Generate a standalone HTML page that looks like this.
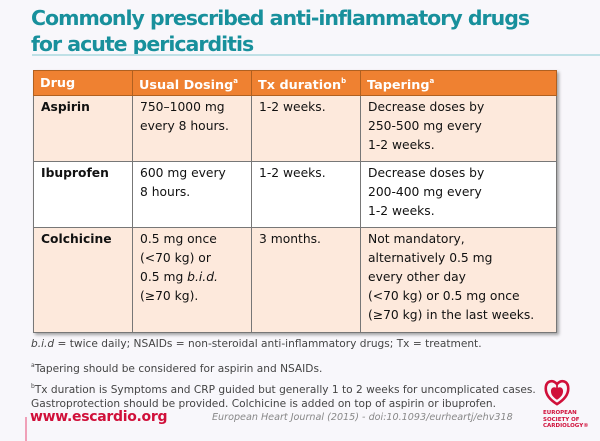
<!DOCTYPE html>
<html><head><meta charset="utf-8"><style>
*{margin:0;padding:0;box-sizing:border-box}
body{width:600px;height:441px;overflow:hidden;background:#f8f7fb;font-family:"DejaVu Sans","Liberation Sans",sans-serif;position:relative}
.a{position:absolute;white-space:nowrap}
.t{left:31px;top:5px;color:#18909c;font-weight:bold;font-size:20.5px;line-height:26px;letter-spacing:-1px}
.rule{left:32px;top:54px;width:568px;height:2px;background:#bfe0e6}
table{position:absolute;left:33px;top:70px;border-collapse:collapse;font-size:12.3px;line-height:19px;color:#111;box-shadow:2px 2px 3px rgba(0,0,0,.35)}
td,th{border:1px solid #777;vertical-align:top;padding:2px 7px;text-align:left}
th{background:#ef8131;color:#fff;font-weight:bold;height:25px;padding:0 6px;font-size:12.8px;border-color:#b06020;vertical-align:middle;line-height:15px}
th sup,td sup{font-size:7px;vertical-align:6px}
tr.o td{background:#fde9dc}
tr.w td{background:#fff}
td.d{font-weight:bold}
.f{color:#444;font-size:10.6px;line-height:14px;left:31px}
.f sup{font-size:6px;vertical-align:5px}
</style></head><body>
<div class="a t">Commonly prescribed anti-inflammatory drugs<br>for acute pericarditis</div>
<div class="a rule"></div>
<table>
<tr><th style="width:99px">Drug</th><th style="width:119px">Usual Dosing<sup>a</sup></th><th style="width:109px">Tx duration<sup>b</sup></th><th style="width:196px">Tapering<sup>a</sup></th></tr>
<tr class="o" style="height:66px"><td class="d">Aspirin</td><td>750–1000 mg<br>every 8 hours.</td><td>1-2 weeks.</td><td>Decrease doses by<br>250-500 mg every<br>1-2 weeks.</td></tr>
<tr class="w" style="height:66px"><td class="d">Ibuprofen</td><td>600 mg every<br>8 hours.</td><td>1-2 weeks.</td><td>Decrease doses by<br>200-400 mg every<br>1-2 weeks.</td></tr>
<tr class="o" style="height:105px"><td class="d">Colchicine</td><td>0.5 mg once<br>(&lt;70 kg) or<br>0.5 mg <i>b.i.d.</i><br>(≥70 kg).</td><td>3 months.</td><td>Not mandatory,<br>alternatively 0.5 mg<br>every other day<br>(&lt;70 kg) or 0.5 mg once<br>(≥70 kg) in the last weeks.</td></tr>
</table>
<div class="a f" style="top:337px"><i>b.i.d</i> = twice daily; NSAIDs = non-steroidal anti-inflammatory drugs; Tx = treatment.</div>
<div class="a f" style="top:359px"><sup>a</sup>Tapering should be considered for aspirin and NSAIDs.</div>
<div class="a f" style="top:380px"><sup>b</sup>Tx duration is Symptoms and CRP guided but generally 1 to 2 weeks for uncomplicated cases.<br>Gastroprotection should be provided. Colchicine is added on top of aspirin or ibuprofen.</div>
<div class="a" style="left:25px;top:417px;width:2px;height:24px;background:#f0a0b8"></div>
<div class="a" style="left:30px;top:409px;color:#d0103a;font-weight:bold;font-size:14px;letter-spacing:-0.3px">www.escardio.org</div>
<div class="a" style="left:212px;top:412px;color:#888;font-style:italic;font-size:9.6px">European Heart Journal (2015) - doi:10.1093/eurheartj/ehv318</div>
<svg class="a" style="left:544px;top:377px" width="26" height="30" viewBox="0 0 30 30">
<path d="M15 6 C10 0 2 2 2 11 C2 20 10 26 15 29 C20 26 28 20 28 11 C28 2 20 0 15 6Z" fill="none" stroke="#d0103a" stroke-width="3"/>
<path d="M15 11 C12 8 8 10 8 14 C8 19 12 22 15 24 C18 22 22 19 22 14 C22 10 18 8 15 11Z" fill="#d0103a"/>
<path d="M15 6 L15 11" stroke="#d0103a" stroke-width="2"/>
</svg>
<div class="a" style="left:543px;top:410px;color:#d0103a;font-weight:bold;font-size:5.5px;line-height:6.5px;text-align:left">EUROPEAN<br>SOCIETY OF<br>CARDIOLOGY®</div>
</body></html>
